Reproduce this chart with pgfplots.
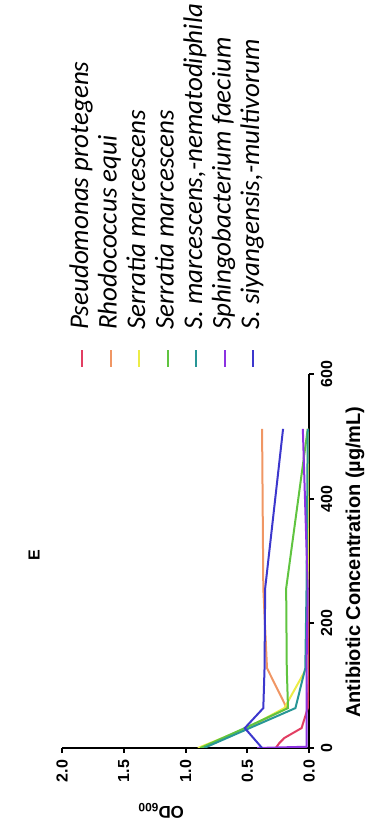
\documentclass[border=0pt]{standalone}
\usepackage{pgfplots}
\pgfplotsset{compat=1.18}
\usepackage{fontspec}
\setmainfont{Liberation Sans}
\newfontfamily\legfont{Carlito}
\definecolor{cRed}{RGB}{226,62,98}
\definecolor{cOrange}{RGB}{240,150,100}
\definecolor{cYellow}{RGB}{236,236,70}
\definecolor{cGreen}{RGB}{96,196,64}
\definecolor{cTeal}{RGB}{40,150,150}
\definecolor{cPurple}{RGB}{140,50,225}
\definecolor{cBlue}{RGB}{60,55,205}
\begin{document}
\begin{tikzpicture}[rotate=90,transform shape]
\begin{axis}[
  at={(0,0)}, anchor=origin,
  scale only axis, width=187pt, height=123.5pt,
  xmin=0, xmax=600, ymin=0, ymax=2,
  axis lines=left,
  axis line style={-, line width=1pt, black},
  xtick={0,200,400,600}, ytick={0,0.5,1,1.5,2},
  y tick label style={/pgf/number format/.cd, fixed, fixed zerofill, precision=1, /tikz/.cd},
  /pgf/number format/assume math mode=true,
  tick style={line width=1pt, black},
  tick align=outside, major tick length=2.5pt,
  ticklabel style={font=\bfseries\fontsize{8}{9}\selectfont},
  xlabel={Antibiotic Concentration (µg/mL)},
  xlabel style={at={(axis description cs:0.497,0)}, anchor=center, yshift=-23pt,
    font=\bfseries\fontsize{10}{12}\selectfont},
  ylabel={OD\textsubscript{600}},
  ylabel style={at={(axis description cs:-0.157,0.6)}, anchor=base,
    font=\bfseries\fontsize{8.5}{10}\selectfont},
  title={E},
  title style={at={(axis description cs:0.516,1)}, anchor=center, yshift=8pt,
    font=\bfseries\fontsize{8}{9}\selectfont},
  legend cell align=left,
  legend image code/.code={\draw[#1, line width=1pt] (0pt,0pt) -- (8.5pt,0pt);},
  legend style={draw=none, fill=none, at={(rel axis cs:1,1)}, anchor=north west,
    xshift=3pt, yshift=-3.5pt, inner sep=0pt, outer sep=0pt,
    font=\legfont\itshape\fontsize{13.5}{14}\selectfont,
    row sep=1.25pt,
    nodes={inner sep=0pt, text height=9.5pt, text depth=3.5pt},
    /tikz/every odd column/.append style={column sep=9.5pt}},
  every axis plot/.append style={line width=1pt},
]
\addplot[cRed] coordinates {(0,0.27) (8,0.24) (16,0.20) (32,0.06) (64,0.01) (128,0.0) (256,0.0) (512,0.0)};
\addlegendentry{Pseudomonas protegens}
\addplot[cOrange] coordinates {(0,0.87) (32,0.50) (64,0.18) (128,0.34) (256,0.37) (512,0.38)};
\addlegendentry{Rhodococcus equi}
\addplot[cYellow] coordinates {(0,0.90) (32,0.50) (64,0.20) (128,0.02) (256,0.01) (512,0.01)};
\addlegendentry{Serratia marcescens}
\addplot[cGreen] coordinates {(0,0.88) (32,0.52) (64,0.17) (128,0.18) (256,0.185) (512,0.01)};
\addlegendentry{Serratia marcescens}
\addplot[cTeal] coordinates {(0,0.85) (32,0.48) (64,0.11) (128,0.03) (256,0.02) (512,0.01)};
\addlegendentry{S. marcescens,-nematodiphila}
\addplot[cPurple] coordinates {(0,0.42) (2,0.02) (8,0.02) (32,0.02) (64,0.02) (128,0.02) (256,0.01) (512,0.05)};
\addlegendentry{Sphingobacterium faecium}
\addplot[cBlue] coordinates {(0,0.38) (32,0.52) (64,0.37) (128,0.36) (256,0.355) (512,0.21)};
\addlegendentry{S. siyangensis,-multivorum}
\end{axis}
\pgfresetboundingbox
\path[use as bounding box] (-37pt,-30pt) rectangle (374pt,154.5pt);
\end{tikzpicture}
\end{document}
